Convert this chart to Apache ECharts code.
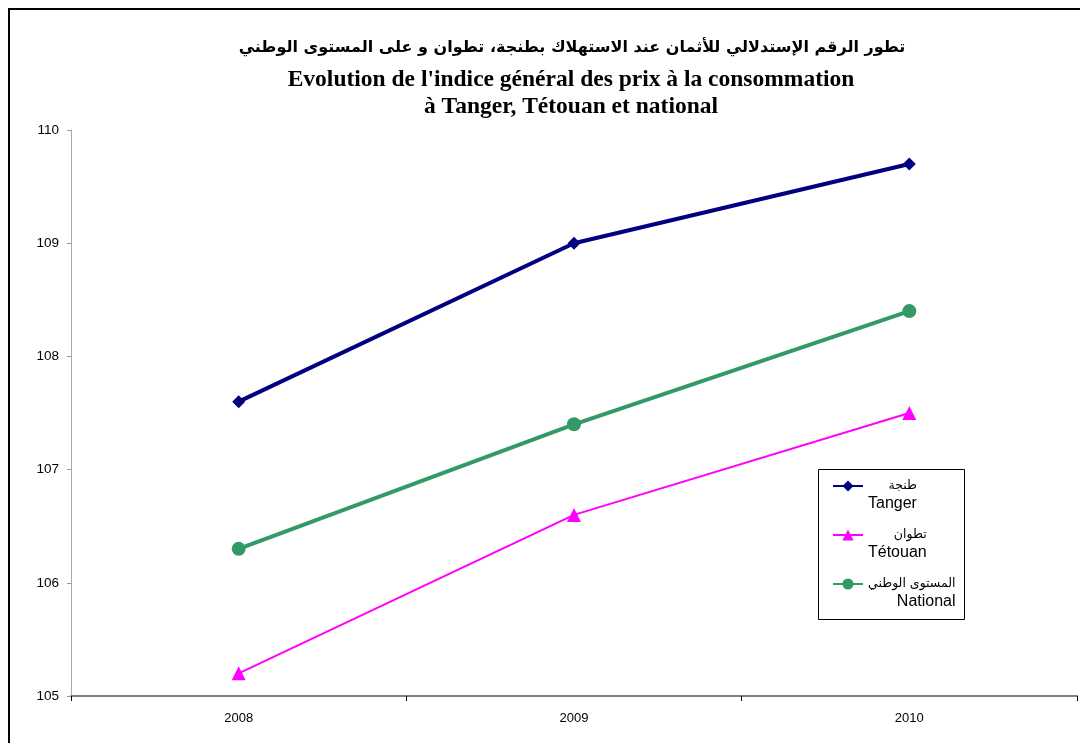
<!DOCTYPE html>
<html><head><meta charset="utf-8">
<script src="https://cdn.jsdelivr.net/npm/echarts@6/dist/echarts.min.js"></script>
<style>html,body{margin:0;padding:0;background:#fff}#c{width:1080px;height:743px}</style>
</head><body><div id="c"></div>
<script>
const years = ['2008', '2009', '2010'];
const tanger = [107.6, 109.0, 109.7];
const tetouan = [105.2, 106.6, 107.5];
const national = [106.3, 107.4, 108.4];
const names = {
  tanger: ['طنجة', 'Tanger'],
  tetouan: ['تطوان', 'Tétouan'],
  national: ['المستوى الوطني', 'National']
};
const titleAr = 'تطور الرقم الإستدلالي للأثمان عند الاستهلاك بطنجة، تطوان و على المستوى الوطني';
const titleFr = "Evolution de l'indice général des prix à la consommation\nà Tanger, Tétouan et national";

const chart = echarts.init(document.getElementById('c'));
const nm = k => names[k].join('\n');
chart.setOption({
  animation: false,
  backgroundColor: '#fff',
  title: [
    { text: titleAr, left: 567, top: 35, textAlign: 'center',
      textStyle: { fontFamily: 'DejaVu Sans', fontWeight: 'bold', fontSize: 16, color: '#000' } },
    { text: titleFr, left: 566, top: 61, textAlign: 'center',
      textStyle: { fontFamily: 'Liberation Serif', fontWeight: 'bold', fontSize: 23.5, lineHeight: 27, color: '#000' } }
  ],
  graphic: [
    { type: 'rect', shape: { x: 9, y: 9, width: 1100, height: 800 }, style: { fill: 'none', stroke: '#000', lineWidth: 2 }, silent: true },
    { type: 'rect', shape: { x: 818.5, y: 469.5, width: 146, height: 150 }, style: { fill: '#fff', stroke: '#000', lineWidth: 1 }, z: 5 }
  ],
  legend: {
    orient: 'vertical', left: 832, top: 458.5, padding: 0, itemGap: -6,
    itemWidth: 30, itemHeight: 14, z: 10,
    formatter: n => '\n{a|' + n.split('\n')[0] + '}\n{b|' + n.split('\n')[1] + '}',
    textStyle: {
      fontFamily: 'Liberation Sans', fontSize: 16, color: '#000', lineHeight: 19,
      rich: {
        a: { fontFamily: 'DejaVu Sans', fontSize: 12.5, lineHeight: 17, align: 'right', color: '#000' },
        b: { fontFamily: 'Liberation Sans', fontSize: 16, lineHeight: 19, align: 'right', color: '#000' }
      }
    },
    data: [nm('tanger'), nm('tetouan'), nm('national')]
  },
  grid: { left: 71, right: 3, top: 130, bottom: 47 },
  xAxis: {
    type: 'category', data: years, boundaryGap: true,
    axisLine: { lineStyle: { color: '#808080', width: 2 } },
    axisTick: { show: true, length: 5, lineStyle: { color: '#000' } },
    axisLabel: { fontFamily: 'Liberation Sans', fontSize: 13, color: '#000', margin: 16 },
    splitLine: { show: false }
  },
  yAxis: {
    type: 'value', min: 105, max: 110, interval: 1,
    axisLine: { show: true, lineStyle: { color: '#aaa', width: 1 } },
    axisTick: { show: true, length: 4, lineStyle: { color: '#999' } },
    axisLabel: { fontFamily: 'Liberation Sans', fontSize: 13.5, color: '#000', margin: 12 },
    splitLine: { show: false }
  },
  series: [
    { name: nm('tanger'), type: 'line', data: tanger, symbol: 'diamond', symbolSize: 13,
      lineStyle: { color: '#000080', width: 4 }, itemStyle: { color: '#000080' } },
    { name: nm('tetouan'), type: 'line', data: tetouan, symbol: 'triangle', symbolSize: 14,
      lineStyle: { color: '#FF00FF', width: 2 }, itemStyle: { color: '#FF00FF' } },
    { name: nm('national'), type: 'line', data: national, symbol: 'circle', symbolSize: 14,
      lineStyle: { color: '#339966', width: 4 }, itemStyle: { color: '#339966' } }
  ]
});
</script></body></html>
